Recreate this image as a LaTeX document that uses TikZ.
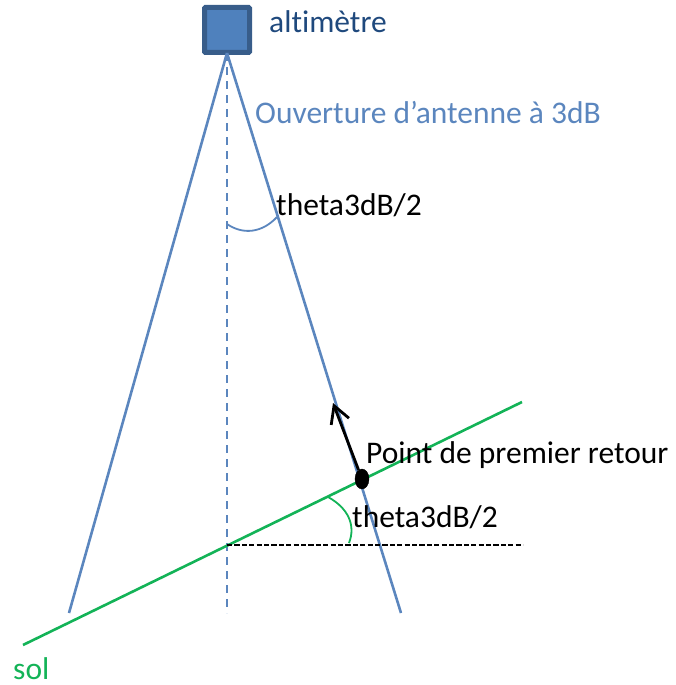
\documentclass[tikz,border=0pt]{standalone}
\usepackage{fontspec}
\setmainfont[Ligatures=NoCommon]{Carlito}
\usetikzlibrary{arrows.meta,shapes.geometric}
\definecolor{bl}{HTML}{5B86BE}
\definecolor{sq}{HTML}{4F81BD}
\definecolor{sqd}{HTML}{385D8A}
\definecolor{gr}{HTML}{13B357}
\definecolor{dk}{HTML}{1F497D}
\tikzset{x=1pt,y=-1pt,
 beam/.style={draw=bl,line width=2.6pt},
 lbl/.style={anchor=base west,inner sep=0pt,font=\fontsize{31.5}{36}\selectfont}}
\begin{document}
\begin{tikzpicture}
\useasboundingbox (0,0) rectangle (675,685);
\node[draw=sqd,fill=sq,line width=5pt,rounded corners=1pt,minimum size=45pt,inner sep=0pt] (alt) at (227,30) {};
\coordinate (apex) at (227,53);
\coordinate (bl) at (69,613);
\coordinate (br) at (401,613);
\coordinate (bc) at (227,613);
\draw[beam] (apex) -- (bl);
\draw[beam] (apex) -- (br);
\draw[draw=bl,line width=2.6pt,dash pattern=on 8pt off 6pt] (apex) -- (bc);
\draw[draw=bl,line width=1.8pt] (227,224) .. controls (243,235) and (262,233) .. (277,217);
\coordinate (g1) at (23,645);
\coordinate (g2) at (522,402);
\draw[draw=gr,line width=2.6pt] (g1) -- (g2);
\draw[draw=gr,line width=1.8pt] (328,497) .. controls (348,508) and (356,525) .. (349,543);
\coordinate (h1) at (227,545);
\coordinate (h2) at (523,545);
\draw[black,line width=2.8pt,dash pattern=on 5.2pt off 2.2pt] (h1) -- (h2);
\node[draw=black,fill=black,ellipse,minimum width=14pt,minimum height=20pt,inner sep=0pt] (pt) at (362,479) {};
\coordinate (tip) at (333,403);
\draw[black,line width=2.8pt,-{Straight Barb[length=17pt,width=19pt]}] (pt) -- (tip);
\node[lbl,text=dk] (t1) at (269,33) {altimètre};
\node[lbl,text=bl] (t2) at (255,123) {Ouverture d’antenne à 3dB};
\node[lbl] (t3) at (276,215) {theta3dB/2};
\node[lbl] (t4) at (366,463) {Point de premier retour};
\node[lbl] (t5) at (352,527) {theta3dB/2};
\node[lbl,text=gr] (t6) at (13,679) {sol};
\end{tikzpicture}
\end{document}
